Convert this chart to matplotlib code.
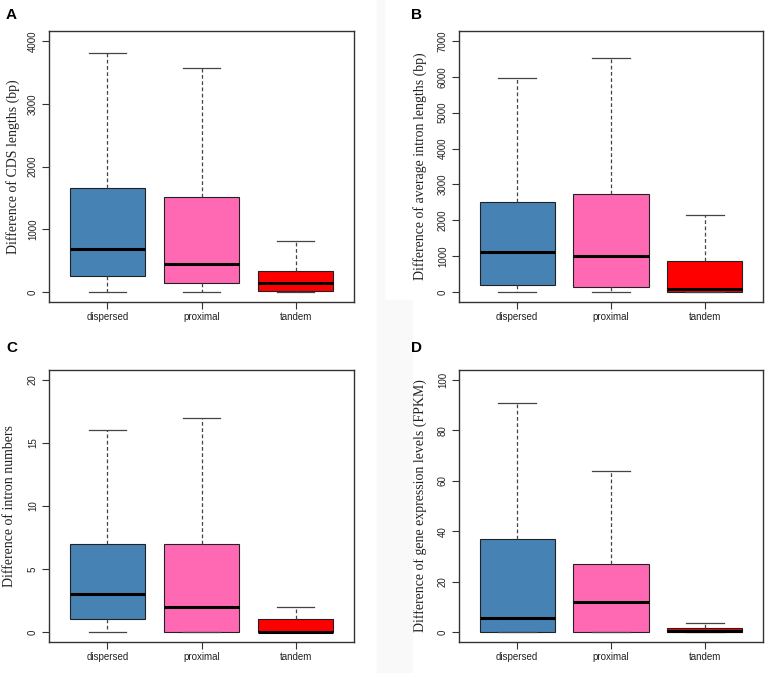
import matplotlib.pyplot as plt
from matplotlib.patches import Rectangle

groups = ["dispersed", "proximal", "tandem"]
box_colors = ["#4682B4", "#FF69B4", "#FF0000"]

# five-number summaries per group: [lower whisker, Q1, median, Q3, upper whisker]
cds_lengths = [[0, 250, 685, 1662, 3804], [0, 148, 446, 1509, 3565], [0, 22, 148, 335, 805]]
intron_lengths = [[0, 186, 1124, 2501, 5959], [0, 149, 1000, 2742, 6534], [0, 0, 90, 864, 2150]]
intron_numbers = [[0, 1, 3, 7, 16], [0, 0, 2, 7, 17], [0, 0, 0, 1, 2]]
expression_fpkm = [[0, 0, 5.5, 36.7, 91], [0, 0, 11.8, 27, 64], [0, 0, 0.5, 1.5, 3.7]]

y_ticks_A = [0, 1000, 2000, 3000, 4000]
y_ticks_B = [0, 1000, 2000, 3000, 4000, 5000, 6000, 7000]
y_ticks_C = [0, 5, 10, 15, 20]
y_ticks_D = [0, 20, 40, 60, 80, 100]

panels = [
    ("A", cds_lengths, y_ticks_A, "Difference of CDS lengths (bp)"),
    ("B", intron_lengths, y_ticks_B, "Difference of average intron lengths (bp)"),
    ("C", intron_numbers, y_ticks_C, "Difference of intron numbers"),
    ("D", expression_fpkm, y_ticks_D, "Difference of gene expression levels (FPKM)"),
]

W, H = 768, 673
fig = plt.figure(figsize=(W / 100, H / 100), dpi=100)

# very faint grey strip between the columns
fig.patches.append(Rectangle((377 / W, 0), 7 / W, 1, transform=fig.transFigure,
                             color="#f9f9f9", zorder=0))
fig.patches.append(Rectangle((384 / W, 0), 28 / W, 373 / H, transform=fig.transFigure,
                             color="#f9f9f9", zorder=0))

# axes boxes in pixels: left, top, right, bottom
ax_px = {"A": (49, 31, 354, 302), "B": (459, 31, 763, 302),
         "C": (49, 370, 354, 642), "D": (459, 370, 763, 642)}
letter_px = {"A": (6, 19), "B": (411, 19), "C": (6, 352.5), "D": (411, 352)}
label_x = {"A": 20, "B": 427, "C": 16, "D": 427}

for letter, summary, ticks, ylabel in panels:
    l, t, r, b = ax_px[letter]
    ax = fig.add_axes([l / W, 1 - b / H, (r - l) / W, (b - t) / H])

    stats = []
    for name, s in zip(groups, summary):
        stats.append({"label": name, "whislo": s[0], "q1": s[1], "med": s[2],
                      "q3": s[3], "whishi": s[4], "fliers": []})

    bp = ax.bxp(stats, positions=[1, 2, 3], widths=0.8, capwidths=0.4,
                patch_artist=True, showfliers=False,
                boxprops=dict(edgecolor="#222222", linewidth=0.8),
                whiskerprops=dict(color="#444444", linewidth=0.9, linestyle=(0, (3, 2))),
                capprops=dict(color="#444444", linewidth=0.9),
                medianprops=dict(color="black", linewidth=2.2, solid_capstyle="butt"))
    for patch, c in zip(bp["boxes"], box_colors):
        patch.set_facecolor(c)

    span = ticks[-1] - ticks[0]
    ax.set_ylim(ticks[0] - 0.04 * span, ticks[-1] + 0.04 * span)
    ax.set_xlim(0.38, 3.62)
    ax.set_yticks(ticks)
    ax.set_yticklabels([str(v) for v in ticks], rotation=90, va="center",
                       fontsize=7, family="Liberation Sans", color="#222222")
    ax.set_xticks([1, 2, 3])
    ax.set_xticklabels(groups, fontsize=7, family="Liberation Sans", color="#222222")
    ax.tick_params(axis="both", direction="out", length=5, width=0.8, color="#333333")
    ax.tick_params(axis="y", pad=3)
    ax.tick_params(axis="x", pad=2.5)
    for sp in ax.spines.values():
        sp.set_color("#333333")
        sp.set_linewidth(1.0)

    ax.set_ylabel(ylabel, fontsize=10, family="Liberation Serif", color="#222222")
    ax.yaxis.set_label_coords((label_x[letter] - l) / (r - l), 0.5)

    lx, ly = letter_px[letter]
    fig.text(lx / W, 1 - ly / H, letter, fontsize=11, fontweight="bold",
             family="Liberation Sans", ha="left", va="baseline")

fig.savefig("out.png", dpi=100)
